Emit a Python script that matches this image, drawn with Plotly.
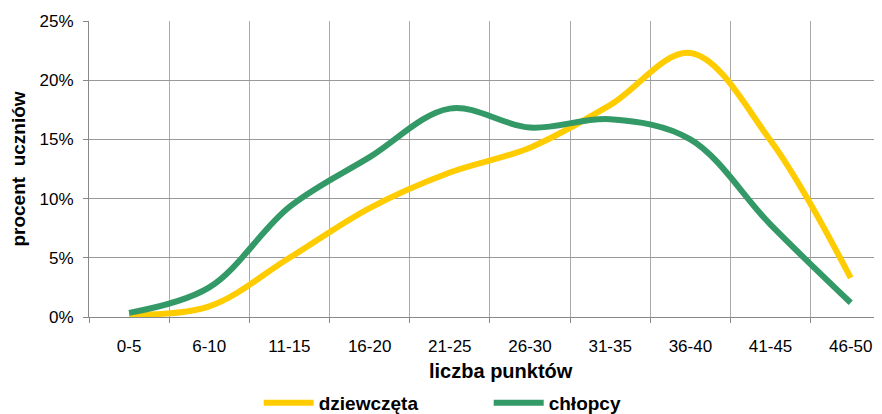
import plotly.graph_objects as go

categories = ["0-5", "6-10", "11-15", "16-20", "21-25", "26-30", "31-35", "36-40", "41-45", "46-50"]
dziewczeta = [0.2, 0.9, 5.0, 9.2, 12.2, 14.3, 17.9, 22.3, 14.9, 3.3]
chlopcy = [0.35, 2.5, 9.3, 13.5, 17.6, 16.0, 16.7, 15.0, 7.8, 1.2]
y_ticks = [0, 5, 10, 15, 20, 25]
y_ticktext = ["0%", "5%", "10%", "15%", "20%", "25%"]

FONT = "Liberation Sans"

fig = go.Figure()
fig.add_trace(go.Scatter(x=categories, y=dziewczeta, name="dziewczęta", mode="lines",
                         line=dict(color="#FFCC00", width=6, shape="spline", smoothing=1.0)))
fig.add_trace(go.Scatter(x=categories, y=chlopcy, name="chłopcy", mode="lines",
                         line=dict(color="#339966", width=6, shape="spline", smoothing=1.0)))

fig.add_annotation(text="<b>liczba punktów</b>", xref="paper", yref="paper", x=0.52, y=-0.182,
                   xanchor="center", yanchor="middle", showarrow=False,
                   font=dict(size=20, family=FONT, color="#000000"))

fig.update_layout(
    width=874, height=406,
    margin=dict(l=81, r=0, t=13, b=97, autoexpand=False),
    plot_bgcolor="white", paper_bgcolor="white",
    font=dict(family=FONT, size=17, color="#000000"),
    showlegend=True,
    legend=dict(orientation="h", xref="container", yref="paper", x=0.55, xanchor="center",
                y=-0.29, yanchor="middle", font=dict(size=19, family=FONT, weight="bold"),
                entrywidth=165, itemwidth=50),
    xaxis=dict(
        type="category", range=[-0.5, 9.39], tickson="boundaries", automargin=False,
        showgrid=True, gridcolor="#aaaaaa", gridwidth=1,
        showline=True, linecolor="#888888", linewidth=1,
        ticks="outside", ticklen=5, tickcolor="#888888",
        tickfont=dict(size=17, family=FONT), ticklabelstandoff=14,
    ),
    yaxis=dict(
        range=[0, 25], tickvals=y_ticks, ticktext=y_ticktext, automargin=False,
        showgrid=True, gridcolor="#999999", gridwidth=1,
        showline=True, linecolor="#888888", linewidth=1,
        ticks="outside", ticklen=5, tickcolor="#888888",
        tickfont=dict(size=17, family=FONT), zeroline=False, ticklabelstandoff=6,
        title=dict(text="procent  uczniów", font=dict(size=19, family=FONT, weight="bold"), standoff=12),
    ),
)

fig.write_html("out.html")
